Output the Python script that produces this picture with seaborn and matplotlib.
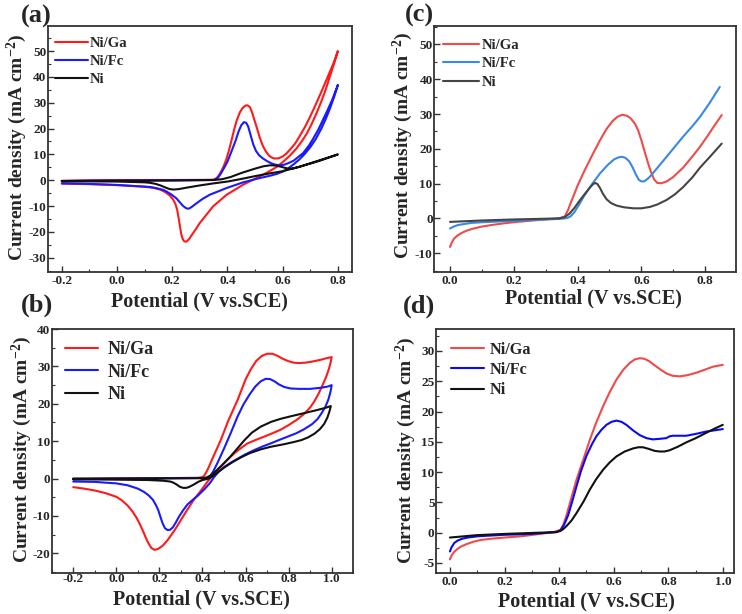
import numpy as np
import pandas as pd
import matplotlib
matplotlib.use("Agg")
import matplotlib.pyplot as plt
import seaborn as sns
from matplotlib.ticker import MultipleLocator

# ---------------- data ----------------
series_names = ["Ni/Ga", "Ni/Fc", "Ni"]

# (a) CV, forward then reverse sweep
a_red_x = [-0.2, -0.1, 0.0, 0.1, 0.2, 0.3, 0.35, 0.36, 0.368, 0.378, 0.388, 0.397, 0.406, 0.415, 0.424, 0.433,
           0.445, 0.455, 0.465, 0.473, 0.482, 0.49, 0.497, 0.505, 0.517, 0.529, 0.54, 0.55, 0.56, 0.571, 0.585,
           0.60, 0.613, 0.626, 0.645, 0.66, 0.68, 0.698, 0.715, 0.73, 0.748, 0.765, 0.785, 0.80,
           0.787, 0.772, 0.757, 0.74, 0.722, 0.705, 0.688, 0.67, 0.65, 0.625, 0.60, 0.58, 0.565, 0.54, 0.517,
           0.457, 0.397, 0.348, 0.30, 0.285, 0.27, 0.26, 0.25, 0.243, 0.237, 0.232, 0.228, 0.223, 0.218,
           0.212, 0.204, 0.192, 0.175, 0.156, 0.13, 0.10, 0.0, -0.1, -0.2]
a_red_y = [-0.2, 0.0, 0.1, 0.1, 0.1, 0.15, 0.2, 0.8, 1.8, 3.6, 5.9, 8.5, 11.8, 15.6, 19.5, 23.0,
           26.3, 28.0, 28.9, 29.0, 28.2, 26.0, 23.5, 20.8, 16.5, 13.1, 11.0, 9.6, 8.8, 8.4, 8.5,
           9.2, 10.3, 11.8, 14.2, 16.8, 20.5, 24.3, 28.2, 31.8, 36.2, 40.5, 45.5, 50.0,
           45.5, 40.5, 35.5, 30.5, 25.8, 21.8, 18.2, 15.2, 12.3, 9.4, 7.0, 5.3, 4.3, 2.8, 1.5,
           -1.7, -5.6, -10.1, -16.5, -19.0, -21.3, -22.9, -23.8, -23.6, -22.5, -20.5, -17.8, -14.5, -11.5,
           -9.3, -7.6, -6.0, -4.6, -3.6, -2.9, -2.5, -1.9, -1.5, -1.3]
a_blue_x = [-0.2, 0.0, 0.2, 0.345, 0.355, 0.365, 0.375, 0.39, 0.40, 0.415, 0.43, 0.44, 0.45, 0.46, 0.468, 0.475,
            0.483, 0.493, 0.503, 0.515, 0.529, 0.545, 0.56, 0.575, 0.59, 0.605, 0.62, 0.64, 0.674, 0.695, 0.71,
            0.73, 0.746, 0.762, 0.78, 0.80,
            0.787, 0.772, 0.757, 0.74, 0.72, 0.70, 0.68, 0.66, 0.64, 0.62, 0.601, 0.58, 0.56, 0.54, 0.517,
            0.457, 0.397, 0.336, 0.31, 0.288, 0.272, 0.262, 0.255, 0.247, 0.238, 0.228, 0.215, 0.198, 0.18,
            0.167, 0.14, 0.119, 0.0, -0.122, -0.2]
a_blue_y = [-0.3, -0.1, 0.0, 0.1, 0.2, 0.9, 2.4, 5.2, 7.2, 11.3, 15.5, 18.8, 21.3, 22.5, 22.2, 20.8,
            17.8, 14.0, 11.4, 9.6, 8.4, 7.3, 6.5, 6.0, 5.8, 6.0, 6.6, 7.6, 10.5, 13.4, 16.0,
            19.8, 23.4, 27.0, 31.3, 36.9,
            32.5, 28.0, 24.0, 20.0, 16.0, 12.8, 10.2, 8.0, 6.2, 4.6, 3.4, 2.5, 1.9, 1.4, 0.85,
            -0.8, -3.0, -5.6, -7.2, -8.9, -10.2, -10.9, -11.0, -10.6, -9.8, -8.6, -7.0, -5.6, -4.4,
            -3.7, -3.0, -2.6, -1.8, -1.35, -1.2]
a_black_x = [-0.2, 0.0, 0.2, 0.35, 0.38, 0.41, 0.45, 0.5, 0.53, 0.555, 0.575, 0.595, 0.615, 0.635, 0.66, 0.73,
             0.8,
             0.73, 0.66, 0.6, 0.55, 0.5, 0.45, 0.4, 0.35, 0.3, 0.25, 0.225, 0.205, 0.19, 0.175, 0.16, 0.14,
             0.12, 0.1, 0.0, -0.2]
a_black_y = [-0.3, -0.2, -0.1, 0.1, 0.4, 1.2, 2.8, 4.5, 5.4, 5.8, 5.7, 5.2, 4.6, 4.5, 5.2, 7.6,
             10.0,
             7.4, 5.2, 3.5, 2.6, 1.6, 0.5, -0.5, -1.2, -2.0, -2.9, -3.4, -3.6, -3.4, -2.8, -2.1, -1.4,
             -1.0, -0.8, -0.5, -0.4]

# (b) CV
b_red_x = [-0.2, 0.0, 0.2, 0.38, 0.40, 0.41, 0.425, 0.45, 0.485, 0.52, 0.563, 0.60, 0.625, 0.65, 0.675, 0.70,
           0.725, 0.75, 0.775, 0.80, 0.825, 0.85, 0.875, 0.90, 0.925, 0.95, 0.975, 1.0,
           0.995, 0.988, 0.975, 0.96, 0.94, 0.92, 0.90, 0.87, 0.84, 0.80, 0.764, 0.72, 0.686, 0.65, 0.609,
           0.58, 0.547, 0.515, 0.485, 0.46, 0.439, 0.42, 0.40, 0.361, 0.33, 0.30, 0.27, 0.238, 0.215, 0.195,
           0.178, 0.163, 0.15, 0.138, 0.125, 0.11, 0.095, 0.075, 0.052, 0.025, 0.0, -0.05, -0.1, -0.15, -0.2]
b_red_y = [-0.1, 0.0, 0.1, 0.2, 0.4, 0.9, 2.5, 5.8, 10.3, 15.5, 21.0, 26.5, 29.3, 31.5, 32.8, 33.4,
           33.4, 32.8, 32.0, 31.4, 31.0, 30.9, 31.0, 31.2, 31.5, 31.8, 32.2, 32.5,
           31.0, 29.5, 27.3, 25.3, 22.8, 20.7, 19.0, 17.2, 15.8, 14.3, 13.1, 12.0, 11.2, 10.4, 9.4,
           8.2, 6.7, 5.0, 3.2, 1.7, 0.3, -1.1, -2.7, -5.6, -8.3, -11.1, -13.9, -16.5, -18.0, -18.8,
           -19.1, -18.6, -17.4, -16.0, -14.2, -12.3, -10.6, -8.8, -7.2, -5.8, -4.9, -3.9, -3.2, -2.7, -2.3]
b_blue_x = [-0.2, 0.0, 0.2, 0.42, 0.435, 0.45, 0.47, 0.5, 0.53, 0.563, 0.59, 0.62, 0.645, 0.67, 0.694, 0.715,
            0.735, 0.755, 0.78, 0.81, 0.85, 0.90, 0.95, 0.98, 1.0,
            0.995, 0.985, 0.97, 0.95, 0.934, 0.91, 0.872, 0.835, 0.795, 0.755, 0.717, 0.68, 0.64, 0.60, 0.563,
            0.53, 0.501, 0.475, 0.454, 0.435, 0.41, 0.38, 0.355, 0.331, 0.31, 0.29, 0.275, 0.262, 0.25, 0.238,
            0.226, 0.215, 0.205, 0.195, 0.183, 0.17, 0.15, 0.129, 0.1, 0.052, 0.0, -0.1, -0.2]
b_blue_y = [-0.2, 0.0, 0.05, 0.15, 0.6, 1.9, 4.2, 8.0, 12.0, 16.6, 19.8, 22.6, 24.6, 26.0, 26.7, 26.6,
            26.0, 25.2, 24.5, 24.1, 24.0, 24.0, 24.3, 24.6, 25.0,
            23.3, 21.2, 19.1, 17.2, 15.9, 14.6, 13.2, 12.1, 11.2, 10.3, 9.4, 8.6, 7.6, 6.5, 5.3,
            4.2, 3.1, 1.8, 0.4, -1.2, -2.8, -4.5, -5.7, -6.9, -8.5, -10.3, -11.9, -13.1, -13.7, -13.8,
            -13.3, -12.0, -10.3, -8.5, -7.0, -5.7, -4.5, -3.6, -2.7, -1.8, -1.3, -0.9, -0.8]
b_black_x = [-0.2, 0.0, 0.2, 0.40, 0.42, 0.44, 0.47, 0.5, 0.53, 0.56, 0.594, 0.63, 0.671, 0.72, 0.764, 0.82,
             0.872, 0.93, 0.97, 0.996,
             0.99, 0.98, 0.965, 0.945, 0.92, 0.89, 0.86, 0.826, 0.78, 0.717, 0.67, 0.62, 0.58, 0.54, 0.50,
             0.47, 0.45, 0.43, 0.40, 0.38, 0.36, 0.34, 0.325, 0.31, 0.295, 0.28, 0.265, 0.25, 0.22, 0.15,
             0.0, -0.2]
b_black_y = [0.0, 0.0, 0.05, 0.1, 0.3, 0.9, 2.4, 4.1, 5.9, 7.9, 10.2, 12.3, 13.9, 15.2, 16.0, 16.8,
             17.5, 18.3, 18.9, 19.4,
             18.0, 16.3, 14.6, 13.2, 12.0, 11.0, 10.3, 9.8, 9.2, 8.5, 7.8, 6.8, 5.7, 4.4, 2.9,
             1.6, 0.7, 0.0, -0.4, -0.9, -1.6, -2.2, -2.5, -2.5, -2.2, -1.6, -1.1, -0.8, -0.6, -0.4,
             -0.3, -0.2]

# (c) LSV
c_red_x = [0.0, 0.005, 0.012, 0.022, 0.034, 0.05, 0.07, 0.097, 0.13, 0.17, 0.21, 0.26, 0.31, 0.34, 0.35, 0.36,
           0.37, 0.38, 0.40, 0.42, 0.445, 0.47, 0.49, 0.51, 0.525, 0.54, 0.555, 0.567, 0.58, 0.59, 0.60, 0.61,
           0.62, 0.63, 0.64, 0.65, 0.662, 0.679, 0.70, 0.731, 0.76, 0.784, 0.81, 0.83, 0.852]
c_red_y = [-8.2, -7.0, -5.9, -5.0, -4.3, -3.6, -3.0, -2.4, -1.9, -1.4, -1.0, -0.6, -0.2, 0.0, 0.2, 0.6,
           2.4, 4.8, 9.4, 13.4, 18.0, 22.4, 25.6, 28.0, 29.2, 29.8, 29.5, 28.7, 27.2, 25.3, 22.5, 19.3,
           16.2, 13.4, 11.2, 10.2, 10.1, 10.6, 11.9, 14.6, 17.8, 20.6, 24.0, 26.8, 29.7]
c_blue_x = [0.0, 0.01, 0.025, 0.045, 0.066, 0.1, 0.15, 0.2, 0.28, 0.35, 0.367, 0.378, 0.39, 0.405, 0.42, 0.445,
            0.47, 0.495, 0.515, 0.53, 0.54, 0.55, 0.562, 0.573, 0.583, 0.592, 0.601, 0.61, 0.62, 0.627, 0.65,
            0.679, 0.705, 0.731, 0.76, 0.784, 0.815, 0.846]
c_blue_y = [-2.9, -2.4, -1.9, -1.6, -1.3, -1.1, -0.9, -0.7, -0.4, -0.1, 0.1, 0.6, 1.8, 4.0, 6.4, 9.8,
            12.9, 15.4, 17.0, 17.6, 17.7, 17.4, 16.4, 14.6, 12.6, 11.1, 10.6, 10.7, 11.4, 12.0, 14.5,
            17.7, 20.6, 23.5, 26.5, 29.2, 33.3, 37.8]
c_black_x = [0.0, 0.05, 0.1, 0.2, 0.34, 0.36, 0.375, 0.39, 0.408, 0.425, 0.44, 0.448, 0.455, 0.462, 0.470, 0.48,
             0.491, 0.505, 0.522, 0.545, 0.575, 0.6, 0.627, 0.65, 0.679, 0.705, 0.731, 0.76, 0.784, 0.815,
             0.852]
c_black_y = [-1.0, -0.8, -0.6, -0.3, 0.0, 0.4, 1.4, 3.0, 5.3, 7.3, 9.0, 9.8, 10.2, 9.9, 8.8, 7.0,
             5.5, 4.4, 3.7, 3.2, 2.9, 2.9, 3.3, 4.0, 5.3, 6.9, 9.0, 11.8, 14.6, 17.7,
             21.5]

# (d) LSV
d_red_x = [0.0, 0.007, 0.015, 0.027, 0.040, 0.06, 0.085, 0.113, 0.15, 0.2, 0.26, 0.33, 0.38, 0.405, 0.415,
           0.427, 0.445, 0.463, 0.49, 0.512, 0.535, 0.561, 0.585, 0.610, 0.635, 0.658, 0.677, 0.695, 0.712,
           0.73, 0.75, 0.772, 0.792, 0.815, 0.841, 0.87, 0.902, 0.933, 0.963, 0.999]
d_red_y = [-4.4, -3.7, -3.2, -2.7, -2.3, -1.9, -1.5, -1.2, -1.0, -0.8, -0.6, -0.2, 0.1, 0.5, 1.3,
           2.9, 5.8, 8.7, 12.3, 15.3, 18.1, 20.9, 23.2, 25.3, 26.9, 28.0, 28.6, 28.8, 28.7,
           28.3, 27.6, 26.9, 26.3, 25.9, 25.8, 26.0, 26.4, 26.9, 27.4, 27.7]
d_blue_x = [0.0, 0.006, 0.016, 0.028, 0.045, 0.065, 0.1, 0.138, 0.2, 0.3, 0.39, 0.405, 0.418, 0.433, 0.448,
            0.463, 0.48, 0.5, 0.52, 0.536, 0.555, 0.573, 0.592, 0.61, 0.628, 0.646, 0.67, 0.695, 0.72, 0.743,
            0.77, 0.792, 0.804, 0.816, 0.84, 0.865, 0.9, 0.939, 0.97, 0.999]
d_blue_y = [-3.1, -2.4, -1.7, -1.3, -1.0, -0.8, -0.6, -0.5, -0.35, -0.2, 0.1, 0.4, 1.3, 2.9, 5.2,
            7.6, 10.2, 12.7, 14.6, 15.9, 17.0, 17.8, 18.3, 18.5, 18.3, 17.8, 16.9, 16.1, 15.6, 15.4,
            15.5, 15.6, 15.9, 16.0, 16.0, 16.0, 16.3, 16.7, 16.9, 17.1]
d_black_x = [0.0, 0.05, 0.1, 0.2, 0.39, 0.405, 0.415, 0.427, 0.445, 0.463, 0.49, 0.512, 0.535, 0.561, 0.585,
             0.610, 0.64, 0.670, 0.69, 0.707, 0.73, 0.75, 0.768, 0.785, 0.804, 0.835, 0.865, 0.9, 0.939, 0.97,
             0.999]
d_black_y = [-0.8, -0.6, -0.4, -0.2, 0.1, 0.3, 0.6, 1.1, 2.0, 3.2, 5.2, 7.1, 8.8, 10.4, 11.6,
             12.6, 13.4, 13.9, 14.1, 14.1, 13.8, 13.5, 13.4, 13.4, 13.6, 14.2, 14.9, 15.6, 16.5, 17.2,
             17.8]

# ---------------- style ----------------
sns.set_style("ticks")
plt.rcParams["font.family"] = ["Liberation Serif", "DejaVu Serif"]
plt.rcParams["font.weight"] = "bold"
plt.rcParams["axes.labelweight"] = "bold"
plt.rcParams["mathtext.fontset"] = "custom"
plt.rcParams["mathtext.rm"] = "Liberation Serif:bold"
plt.rcParams["mathtext.it"] = "Liberation Serif:bold:italic"
plt.rcParams["mathtext.bf"] = "Liberation Serif:bold"
plt.rcParams["axes.unicode_minus"] = False

fig = plt.figure(figsize=(7.42, 6.14), dpi=100)

panels = {
    "a": dict(rect=[0.0647, 0.557, 0.4093, 0.4007],
              data=[(a_red_x, a_red_y), (a_blue_x, a_blue_y), (a_black_x, a_black_y)],
              colors=["#FF1A1A", "#1A1AFF", "#111111"],
              xlim=(-0.25, 0.85), ylim=(-35.5, 59.7), xmaj=0.2, ymaj=10, xticks=np.arange(-0.2, 0.81, 0.2),
              yticks=np.arange(-30, 51, 10), xpad=2,
              leg=dict(fs=10.5, anchor=(0.023, 0.957), hl=2.26, htp=0.15, ls=0.35),
              xlab=(0.5, -0.121), ylab=(-0.102, 0.506)),
    "b": dict(rect=[0.0697, 0.0673, 0.4063, 0.3967],
              data=[(b_red_x, b_red_y), (b_blue_x, b_blue_y), (b_black_x, b_black_y)],
              colors=["#FF1A1A", "#1A1AFF", "#111111"],
              xlim=(-0.3, 1.1), ylim=(-25.2, 40.0), xmaj=0.2, ymaj=10, xticks=np.arange(-0.2, 1.01, 0.2),
              yticks=np.arange(-20, 41, 10), xpad=0.5,
              leg=dict(fs=13, anchor=(0.044, 0.95), hl=1.83, htp=0.55, ls=0.3),
              xlab=(0.498, -0.110), ylab=(-0.099, 0.508)),
    "c": dict(rect=[0.585, 0.557, 0.407, 0.4007],
              data=[(c_red_x, c_red_y), (c_blue_x, c_blue_y), (c_black_x, c_black_y)],
              colors=["#EE4B4B", "#3A88E6", "#454545"],
              xlim=(-0.05, 0.897), ylim=(-15.4, 55.3), xmaj=0.2, ymaj=10, xticks=np.arange(0.0, 0.81, 0.2),
              yticks=np.arange(-10, 51, 10), xpad=2,
              leg=dict(fs=10.5, anchor=(0.03, 0.949), hl=2.47, htp=0.15, ls=0.36),
              xlab=(0.528, -0.106), ylab=(-0.105, 0.516)),
    "d": dict(rect=[0.5876, 0.0668, 0.4016, 0.3972],
              data=[(d_red_x, d_red_y), (d_blue_x, d_blue_y), (d_black_x, d_black_y)],
              colors=["#F04A4A", "#0A0AF0", "#111111"],
              xlim=(-0.051, 1.04), ylim=(-6.65, 33.6), xmaj=0.2, ymaj=5, xticks=np.arange(0.0, 1.01, 0.2),
              yticks=np.arange(-5, 31, 5), xpad=2,
              leg=dict(fs=11.7, anchor=(0.05, 0.949), hl=2.04, htp=0.37, ls=0.27),
              xlab=(0.506, -0.116), ylab=(-0.101, 0.502)),
}

for key, p in panels.items():
    ax = fig.add_axes(p["rect"])
    for (xs, ys), col, name in zip(p["data"], p["colors"], series_names):
        df = pd.DataFrame({"x": xs, "y": ys})
        sns.lineplot(data=df, x="x", y="y", sort=False, estimator=None, color=col,
                     linewidth=1.5, label=name, ax=ax)
    ax.set_xlim(*p["xlim"])
    ax.set_ylim(*p["ylim"])
    ax.set_xticks(p["xticks"])
    ax.set_xticklabels([f"{v:.1f}" for v in p["xticks"]])
    ax.set_yticks(p["yticks"])
    ax.set_yticklabels([f"{int(round(v))}" for v in p["yticks"]])
    ax.xaxis.set_minor_locator(MultipleLocator(p["xmaj"] / 2))
    ax.yaxis.set_minor_locator(MultipleLocator(p["ymaj"] / 2))
    ax.tick_params(which="major", direction="in", length=4, width=1.0, labelsize=9.5,
                   color="#333333")
    ax.tick_params(axis="x", which="major", pad=p["xpad"])
    ax.tick_params(axis="y", which="major", pad=1)
    ax.tick_params(which="minor", direction="in", length=2, width=0.8, color="#333333")
    for lab in ax.get_xticklabels() + ax.get_yticklabels():
        lab.set_fontweight("bold")
    for sp in ax.spines.values():
        sp.set_linewidth(1.3)
        sp.set_color("#333333")
        sp.set_visible(True)
    ax.set_xlabel("Potential (V vs.SCE)", fontsize=14.5, fontweight="bold", va="center", ha="center")
    ax.set_ylabel("Current density (mA cm$^{-2}$)", fontsize=14, fontweight="bold",
                  va="center", ha="center")
    ax.xaxis.set_label_coords(*p["xlab"])
    ax.yaxis.set_label_coords(*p["ylab"])
    lg = p["leg"]
    ax.legend(loc="upper left", bbox_to_anchor=lg["anchor"], frameon=False, borderpad=0,
              borderaxespad=0, handlelength=lg["hl"], handletextpad=lg["htp"], labelspacing=lg["ls"],
              prop={"family": "Liberation Serif", "weight": "bold", "size": lg["fs"]})

fig.text(36 / 742, 1 - 16 / 614, "(a)", fontsize=19, fontweight="bold", ha="center", va="center")
fig.text(37 / 742, 1 - 305 / 614, "(b)", fontsize=19, fontweight="bold", ha="center", va="center")
fig.text(419 / 742, 1 - 15 / 614, "(c)", fontsize=19, fontweight="bold", ha="center", va="center")
fig.text(419 / 742, 1 - 306 / 614, "(d)", fontsize=19, fontweight="bold", ha="center", va="center")

fig.savefig("out.png", dpi=100)
